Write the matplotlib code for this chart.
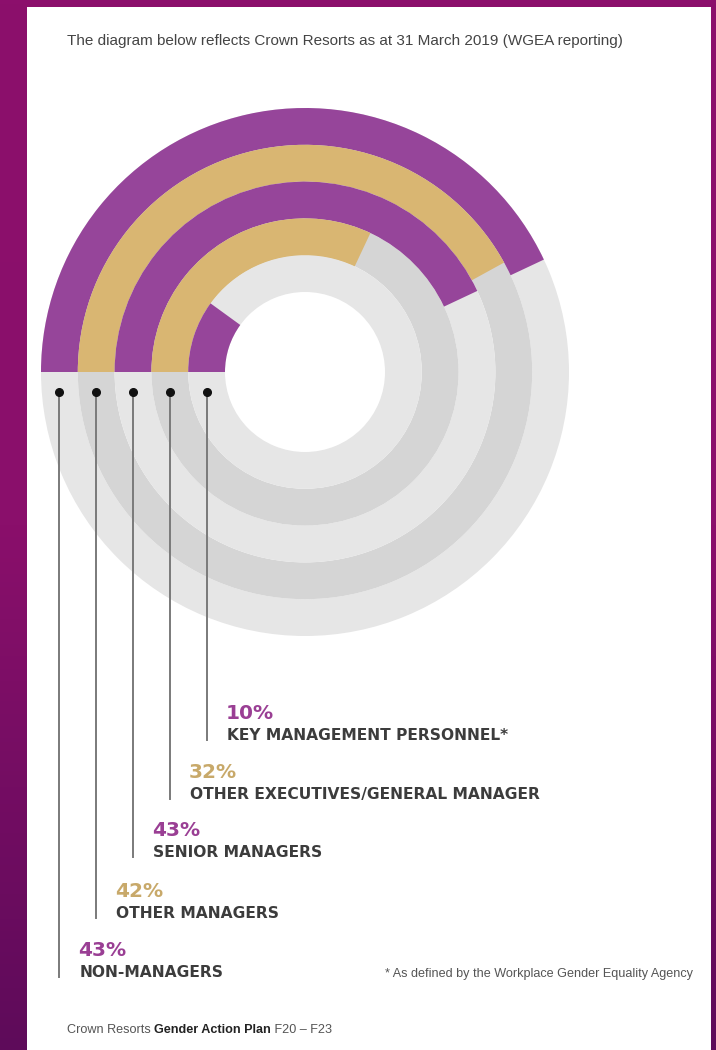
import numpy as np
import matplotlib.pyplot as plt
from matplotlib.colors import LinearSegmentedColormap
from matplotlib.patches import Wedge, Rectangle

# rings from outside to inside
categories = ['NON-MANAGERS', 'OTHER MANAGERS', 'SENIOR MANAGERS',
              'OTHER EXECUTIVES/GENERAL MANAGER', 'KEY MANAGEMENT PERSONNEL*']
percents = [43, 42, 43, 32, 10]
pct_labels = ['43%', '42%', '43%', '32%', '10%']

purple = '#96459a'
gold = '#d9b672'
ring_colors = [purple, gold, purple, gold, purple]
text_colors = ['#9a3f94', '#c8a96a', '#9a3f94', '#c8a96a', '#9a3f94']
grey_colors = ['#e6e6e6', '#d5d5d5', '#e6e6e6', '#d5d5d5', '#e6e6e6']

W, H = 716, 1050
fig = plt.figure(figsize=(W / 100, H / 100), dpi=100)
fig.patch.set_facecolor('#820e68')
ax = fig.add_axes([0, 0, 1, 1])
ax.set_xlim(0, W)
ax.set_ylim(0, H)
ax.axis('off')

# purple backdrop, a little darker at the top
grad = np.linspace(0, 1, 256).reshape(-1, 1)
ax.imshow(grad, extent=[0, W, 0, H], aspect='auto', zorder=0,
          cmap=LinearSegmentedColormap.from_list('bg', ['#8c0f6c', '#8a0f6b', '#5e0b5a']))

# white card
ax.add_patch(Rectangle((27, 0), 684, H - 7, facecolor='white', edgecolor='none', zorder=1))

cx, cy = 305, H - 372
r_out, r_in = 264, 80
w = (r_out - r_in) / len(percents)

for i, (p, col, gcol) in enumerate(zip(percents, ring_colors, grey_colors)):
    r = r_out - i * w
    ax.add_patch(Wedge((cx, cy), r, 0, 360, width=w, facecolor=gcol, edgecolor='none', zorder=2))
    ax.add_patch(Wedge((cx, cy), r, 180 - p * 3.6, 180, width=w, facecolor=col, edgecolor='none', zorder=3))

# leader lines, dots and labels
line_ends = [977, 918, 857, 799, 740]
for i, (cat, lab, tcol, yend) in enumerate(zip(categories, pct_labels, text_colors, line_ends)):
    x = cx - r_out + (i + 0.5) * w
    ax.plot([x, x], [H - 392, H - yend], color='#7a7a7a', lw=1.4, zorder=4)
    ax.plot(x, H - 392, 'o', color='#111111', ms=5.5, zorder=5)
    ax.text(x + 20, H - yend, cat, fontsize=11.2, fontweight='bold', color='#3c3c3c',
            ha='left', va='baseline', family=['DejaVu Sans'], zorder=5)
    ax.text(x + 19, H - yend + 21, lab, fontsize=14.5, fontweight='bold', color=tcol,
            ha='left', va='baseline', family=['DejaVu Sans'], zorder=5)

sans = ['Liberation Sans', 'DejaVu Sans']
ax.text(67, H - 45, 'The diagram below reflects Crown Resorts as at 31 March 2019 (WGEA reporting)',
        fontsize=11, color='#444444', ha='left', va='baseline', family=sans, zorder=5)
ax.text(693, H - 977, '* As defined by the Workplace Gender Equality Agency',
        fontsize=9.1, color='#555555', ha='right', va='baseline', family=sans, zorder=5)

t1 = ax.text(67, H - 1033, 'Crown Resorts ', fontsize=9.1, color='#555555',
             ha='left', va='baseline', family=sans, zorder=5)
t2 = ax.annotate('Gender Action Plan', xy=(1, 0), xycoords=t1, fontsize=9.1, fontweight='bold',
                 color='#222222', ha='left', va='bottom', family=sans, zorder=5)
ax.annotate(' F20 – F23', xy=(1, 0), xycoords=t2, fontsize=9.1, color='#555555',
            ha='left', va='bottom', family=sans, zorder=5)

fig.savefig('out.png', dpi=100, facecolor=fig.get_facecolor())
